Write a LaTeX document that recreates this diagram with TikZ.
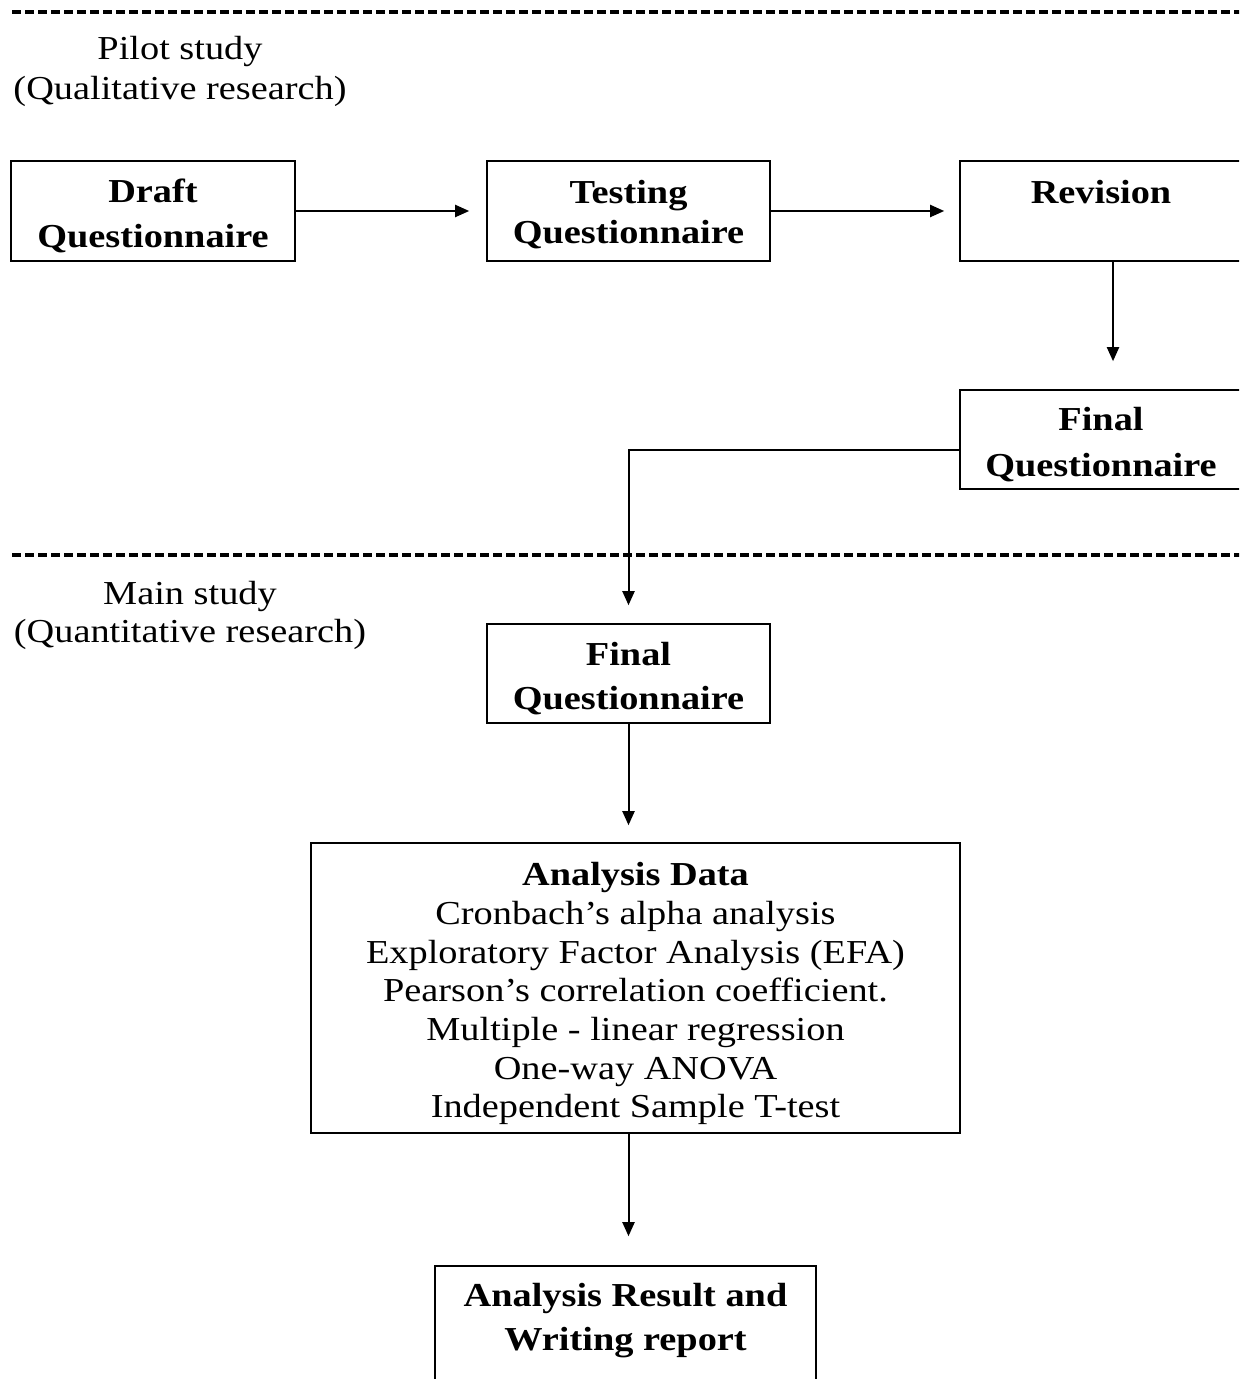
\documentclass[tikz,border=0pt]{standalone}
\usepackage{fontspec}
\setmainfont{Liberation Serif}[FakeStretch=1.144]
\usetikzlibrary{arrows.meta}
% invisible strut that pushes the first line of a box a little lower
\newcommand{\firstlinegap}[1][16.6pt]{\rule{0pt}{#1}}
\begin{document}
\begin{tikzpicture}[x=0.5pt,y=-0.5pt,
  box/.style={draw, line width=0.8pt, inner sep=0pt, align=center,
    font=\bfseries\fontsize{16.75}{#1}\selectfont},
  box/.default=22,
  conn/.style={line width=1pt, -{Triangle[length=7pt,width=6pt]}},
  sep/.style={line width=1.6pt, dash pattern=on 4.5pt off 2pt},
  lbl/.style={align=center, inner sep=0pt, font=\fontsize{16.75}{#1}\selectfont},
  lbl/.default=20]
\useasboundingbox (0,0) rectangle (1239,1379);
\clip (0,0) rectangle (1239,1379);

% phase separators
\draw[sep] (12,12) -- (1250,12);
\draw[sep] (12,555) -- (1250,555);

% phase titles
\node[lbl=20] (pilot) at (180,71) {Pilot study\\(Qualitative research)};
\node[lbl=19] (main) at (190,615) {Main study\\(Quantitative research)};

% pilot study boxes
\node[box=22.5, minimum width=142pt, minimum height=50pt] (draft) at (153,211) {\firstlinegap Draft\\Questionnaire};
\node[box=20, minimum width=141.5pt, minimum height=50pt] (test) at (628.5,211) {\firstlinegap[15.4pt]Testing\\Questionnaire};
\node[box=20, minimum width=141pt, minimum height=50pt] (rev) at (1101,211) {\firstlinegap[19pt]Revision\\\strut};
\node[box=23, minimum width=141pt, minimum height=49.5pt] (fin1) at (1101,439.5) {\firstlinegap Final\\Questionnaire};

% main study boxes
\node[box=22, minimum width=141.5pt, minimum height=49.5pt] (fin2) at (628.5,673.5) {\firstlinegap Final\\Questionnaire};
\node[draw, line width=0.8pt, inner sep=0pt, align=center,
      font=\fontsize{16.75}{19.35}\selectfont,
      minimum width=324.5pt, minimum height=145pt] (ana) at (635.5,988)
  {\firstlinegap[17.4pt]\textbf{Analysis Data}\\Cronbach’s alpha analysis\\Exploratory Factor Analysis (EFA)\\Pearson’s correlation coefficient.\\Multiple - linear regression\\One-way ANOVA\\Independent Sample T-test};
\node[box=22, minimum width=190.5pt, minimum height=74pt] (res) at (625.5,1340) {\firstlinegap[17.4pt]Analysis Result and\\Writing report\\\strut};

% connectors
\draw[conn, shorten >=8.5pt] (draft) -- (test);
\draw[conn, shorten >=7.5pt] (test) -- (rev);
\draw[conn, shorten >=14pt] ([xshift=6pt]rev.south) -- ([xshift=6pt]fin1.north);
\draw[conn, shorten >=9pt] ([yshift=-5.25pt]fin1.west) -| (fin2.north);
\draw[conn, shorten >=8.5pt] (fin2.south) -- (fin2.south |- ana.north);
\draw[conn, shorten >=14.5pt] (fin2.south |- ana.south) -- (fin2.south |- res.north);
\end{tikzpicture}
\end{document}
